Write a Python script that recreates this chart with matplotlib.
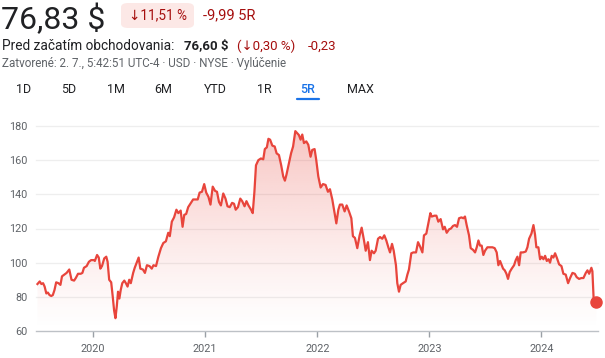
import numpy as np
import matplotlib
matplotlib.use("Agg")
import matplotlib.pyplot as plt
from matplotlib.patches import FancyBboxPatch, Polygon

plt.rcParams['font.family'] = ['Roboto', 'DejaVu Sans']

# ---------------- data (decimal years, price in $) ----------------
years = [
    2019.503, 2019.523, 2019.538, 2019.553, 2019.567, 2019.582, 2019.596, 2019.611, 2019.626, 2019.640,
    2019.655, 2019.670, 2019.690, 2019.708, 2019.722, 2019.743, 2019.763, 2019.787, 2019.807, 2019.830,
    2019.845, 2019.865, 2019.889, 2019.904, 2019.918, 2019.942, 2019.962, 2019.982, 2020.006, 2020.015,
    2020.035, 2020.050, 2020.064, 2020.079, 2020.099, 2020.117, 2020.129, 2020.143, 2020.161, 2020.175,
    2020.187, 2020.199, 2020.211, 2020.222, 2020.234, 2020.246, 2020.260, 2020.278, 2020.292, 2020.307,
    2020.322, 2020.336, 2020.357, 2020.371, 2020.392, 2020.406, 2020.421, 2020.444, 2020.462, 2020.480,
    2020.503, 2020.523, 2020.538, 2020.561, 2020.582, 2020.605, 2020.626, 2020.649, 2020.670, 2020.684,
    2020.702, 2020.722, 2020.743, 2020.760, 2020.781, 2020.798, 2020.813, 2020.830, 2020.848, 2020.868,
    2020.892, 2020.912, 2020.933, 2020.950, 2020.971, 2020.991, 2021.009, 2021.029, 2021.047, 2021.067,
    2021.088, 2021.105, 2021.123, 2021.140, 2021.161, 2021.181, 2021.199, 2021.219, 2021.240, 2021.257,
    2021.272, 2021.292, 2021.313, 2021.330, 2021.351, 2021.368, 2021.386, 2021.409, 2021.424, 2021.439,
    2021.453, 2021.474, 2021.497, 2021.518, 2021.532, 2021.550, 2021.564, 2021.579, 2021.599, 2021.620,
    2021.637, 2021.658, 2021.678, 2021.696, 2021.711, 2021.725, 2021.746, 2021.766, 2021.784, 2021.804,
    2021.836, 2021.851, 2021.866, 2021.881, 2021.902, 2021.920, 2021.940, 2021.955, 2021.976, 2021.991,
    2022.009, 2022.030, 2022.051, 2022.074, 2022.095, 2022.113, 2022.134, 2022.155, 2022.170, 2022.188,
    2022.202, 2022.223, 2022.244, 2022.262, 2022.283, 2022.304, 2022.318, 2022.336, 2022.357, 2022.378,
    2022.396, 2022.417, 2022.432, 2022.452, 2022.470, 2022.485, 2022.506, 2022.521, 2022.542, 2022.560,
    2022.580, 2022.598, 2022.616, 2022.634, 2022.649, 2022.667, 2022.682, 2022.702, 2022.714, 2022.729,
    2022.744, 2022.765, 2022.789, 2022.804, 2022.818, 2022.839, 2022.857, 2022.881, 2022.899, 2022.917,
    2022.938, 2022.952, 2022.973, 2022.991, 2023.009, 2023.021, 2023.045, 2023.063, 2023.080, 2023.101,
    2023.122, 2023.137, 2023.155, 2023.176, 2023.193, 2023.211, 2023.229, 2023.247, 2023.265, 2023.286,
    2023.304, 2023.318, 2023.333, 2023.354, 2023.369, 2023.390, 2023.408, 2023.423, 2023.438, 2023.452,
    2023.467, 2023.482, 2023.497, 2023.518, 2023.539, 2023.563, 2023.583, 2023.601, 2023.616, 2023.631,
    2023.646, 2023.658, 2023.673, 2023.688, 2023.702, 2023.717, 2023.735, 2023.756, 2023.771, 2023.786,
    2023.801, 2023.815, 2023.836, 2023.860, 2023.875, 2023.890, 2023.911, 2023.929, 2023.943, 2023.955,
    2023.973, 2023.988, 2024.003, 2024.018, 2024.033, 2024.048, 2024.063, 2024.077, 2024.092, 2024.107,
    2024.122, 2024.137, 2024.158, 2024.179, 2024.196, 2024.217, 2024.238, 2024.256, 2024.277, 2024.298,
    2024.315, 2024.336, 2024.357, 2024.375, 2024.396, 2024.411, 2024.426, 2024.446, 2024.455, 2024.467,
    2024.491,
]
prices = [
    87.5, 89.0, 87.5, 88.0, 86.0, 82.0, 82.5, 81.0, 80.5, 81.0,
    84.0, 88.5, 88.0, 87.0, 92.0, 93.0, 94.0, 96.0, 90.0, 89.5,
    91.0, 93.5, 93.5, 94.0, 97.0, 98.0, 100.5, 101.5, 101.5, 101.0,
    104.5, 103.0, 96.5, 98.0, 102.5, 103.5, 100.5, 90.0, 88.5, 80.0,
    72.0, 67.5, 74.5, 83.0, 79.0, 84.0, 88.0, 89.5, 88.0, 86.0,
    90.0, 88.0, 94.0, 97.0, 100.5, 103.0, 96.5, 96.0, 94.0, 98.5,
    98.0, 96.5, 98.5, 98.0, 103.5, 108.5, 111.5, 112.5, 117.5, 115.5,
    124.0, 126.5, 131.0, 129.0, 130.5, 121.0, 128.0, 128.5, 132.5, 134.5,
    137.0, 137.0, 137.0, 141.0, 141.5, 146.0, 141.0, 138.5, 134.0, 144.5,
    142.0, 141.5, 135.5, 133.5, 140.5, 137.5, 133.0, 132.5, 135.0, 134.5,
    131.0, 132.5, 137.5, 136.0, 133.0, 136.0, 133.5, 131.0, 129.0, 141.5,
    157.0, 160.0, 161.0, 160.5, 166.5, 167.5, 172.5, 172.0, 168.5, 168.0,
    164.0, 163.0, 157.0, 150.5, 148.0, 151.5, 158.0, 164.0, 168.0, 177.0,
    174.7, 172.0, 175.0, 170.0, 171.0, 169.0, 162.0, 166.0, 166.5, 160.0,
    150.5, 144.0, 146.0, 145.5, 141.5, 143.0, 137.0, 129.0, 123.0, 131.0,
    134.0, 134.0, 130.0, 133.5, 130.0, 126.0, 115.5, 114.5, 108.5, 116.0,
    120.5, 113.0, 107.0, 112.0, 101.5, 107.0, 105.5, 107.0, 114.0, 115.0,
    114.0, 116.0, 113.0, 109.0, 106.0, 111.0, 107.0, 98.5, 88.0, 83.0,
    87.0, 88.0, 89.0, 93.0, 96.0, 105.5, 106.0, 106.0, 112.0, 109.5,
    106.0, 116.0, 117.0, 123.0, 129.0, 127.0, 127.5, 127.5, 124.0, 125.5,
    119.5, 121.0, 117.5, 119.5, 120.0, 121.5, 122.0, 121.0, 126.0, 126.5,
    126.0, 127.0, 122.0, 116.0, 108.5, 107.5, 106.0, 109.0, 113.0, 110.0,
    110.0, 104.5, 107.0, 109.0, 109.0, 109.0, 108.5, 106.0, 98.5, 101.0,
    98.5, 96.5, 95.5, 93.5, 90.5, 94.5, 96.5, 98.5, 101.5, 103.5,
    98.5, 106.0, 106.0, 106.5, 109.0, 114.0, 117.0, 122.0, 116.5, 109.0,
    109.0, 102.0, 103.5, 102.0, 104.0, 101.0, 102.0, 100.0, 104.0, 103.0,
    105.5, 103.0, 99.0, 98.0, 93.5, 93.0, 88.0, 91.0, 94.0, 93.5,
    91.5, 90.5, 91.0, 91.0, 94.0, 95.5, 93.5, 97.0, 95.0, 77.5,
    76.83,
]
y_ticks = [60, 80, 100, 120, 140, 160, 180]
x_ticks = [2020, 2021, 2022, 2023, 2024]
x_tick_labels = ["2020", "2021", "2022", "2023", "2024"]
ranges = ["1D", "5D", "1M", "6M", "YTD", "1R", "5R", "MAX"]
range_x = [24, 69, 116, 163, 215, 264, 308, 360]
selected_range = "5R"

W, H = 605, 358
fig = plt.figure(figsize=(W / 100, H / 100), dpi=100)

def fx(px):
    return px / W

def fy(py):
    return 1 - py / H

RED = "#a50e0e"
DARK = "#202124"
GRAY = "#5f6368"
LINE = "#e8453c"

# ---------------- header ----------------
fig.text(fx(1), fy(29), "76,83 $", fontsize=23, color=DARK, va="baseline", ha="left")
badge = FancyBboxPatch((fx(121), fy(28)), fx(73), 25 / H,
                       boxstyle="round,pad=0,rounding_size=0.012",
                       transform=fig.transFigure, facecolor="#fce8e6",
                       edgecolor="none")
fig.patches.append(badge)
fig.text(fx(158), fy(15.5), "↓11,51 %", fontsize=9.8, color=RED, va="center", ha="center")
fig.text(fx(203), fy(15.5), "-9,99 5R", fontsize=10.5, color=RED, va="center", ha="left")

fig.text(fx(2), fy(46), "Pred začatím obchodovania:", fontsize=9.8, color=DARK, va="center", ha="left")
fig.text(fx(184), fy(46), "76,60 $", fontsize=9.5, color=DARK, va="center", ha="left", fontweight="bold")
fig.text(fx(237), fy(46), "(↓0,30 %)", fontsize=9.5, color=RED, va="center", ha="left")
fig.text(fx(308), fy(46), "-0,23", fontsize=9.5, color=RED, va="center", ha="left")
fig.text(fx(2), fy(63), "Zatvorené: 2. 7., 5:42:51 UTC-4 · USD · NYSE · Vylúčenie",
         fontsize=8.4, color=GRAY, va="center", ha="left")

for lab, x in zip(ranges, range_x):
    col = "#1a73e8" if lab == selected_range else DARK
    fig.text(fx(x), fy(89.5), lab, fontsize=9, color=col, va="center", ha="center",
             fontweight="medium" if lab == selected_range else "normal")
    if lab == selected_range:
        fig.add_artist(plt.Line2D([fx(x - 11), fx(x + 11)], [fy(98.5), fy(98.5)],
                                  transform=fig.transFigure, color="#1a73e8",
                                  linewidth=1.6, solid_capstyle="round"))

# ---------------- chart ----------------
ax = fig.add_axes([fx(36), fy(331), fx(598) - fx(36), (331 - 126) / H])
x = np.array(years)
y = np.array(prices)
x0, x1 = 2019.49, 2024.505
ax.set_xlim(x0, x1)
ax.set_ylim(60, 180)

# gradient fill
grad = np.zeros((256, 2, 4))
r, g, b = matplotlib.colors.to_rgb(LINE)
grad[..., 0], grad[..., 1], grad[..., 2] = r, g, b
alpha = np.linspace(0.0, 0.38, 256) ** 1.2
grad[..., 3] = alpha[:, None]
im = ax.imshow(grad, extent=[x0, x1, 60, 180], origin="lower", aspect="auto",
               interpolation="bicubic", zorder=1)
poly = Polygon(np.column_stack([np.r_[x[0], x, x[-1]], np.r_[60, y, 60]]),
               closed=True, facecolor="none", edgecolor="none", transform=ax.transData)
ax.add_patch(poly)
im.set_clip_path(poly)

ax.plot(x, y, color=LINE, linewidth=1.6, zorder=3, solid_joinstyle="round")
ax.plot([x[-1]], [y[-1]], "o", color=LINE, markersize=8, zorder=4, clip_on=False)

for t in y_ticks[1:]:
    ax.axhline(t, color="#eeeeee", linewidth=0.9, zorder=0, clip_on=False)

ax.set_yticks(y_ticks)
ax.set_yticklabels([str(v) for v in y_ticks])
ax.set_xticks(x_ticks)
ax.set_xticklabels(x_tick_labels)
for s in ["top", "right", "left"]:
    ax.spines[s].set_visible(False)
ax.spines["bottom"].set_color("#bdc1c6")
ax.spines["bottom"].set_linewidth(1.0)
ax.tick_params(axis="y", length=0, pad=6, labelsize=7.8, labelcolor=GRAY)
ax.tick_params(axis="x", length=4, width=1, color="#9aa0a6", pad=5, labelsize=7.8, labelcolor=GRAY)
ax.set_facecolor("white")

fig.savefig("out.png", dpi=100)
